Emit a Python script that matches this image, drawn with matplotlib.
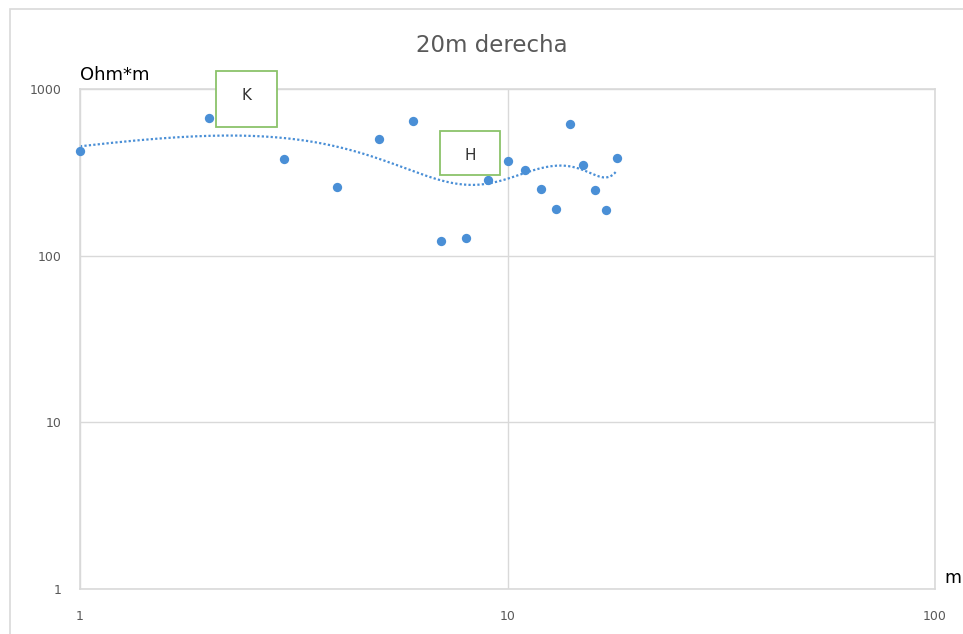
import numpy as np
import matplotlib.pyplot as plt
from matplotlib.patches import Rectangle

# spacing (m) and apparent resistivity (Ohm*m)
spacing = [1, 2, 3, 4, 5, 6, 7, 8, 9, 10, 11, 12, 13, 14, 15, 16, 17, 18]
resistivity = [425, 670, 380, 258, 500, 643, 122, 128, 285, 370,
               326, 251, 190, 617, 350, 248, 188, 386]

title = '20m derecha'
y_label = 'Ohm*m'
x_label = 'm'

point_color = '#4a8fd6'
grid_color = '#d9d9d9'
text_color = '#595959'

fig = plt.figure(figsize=(9.63, 6.34), dpi=100)
fig.patches.append(Rectangle((10 / 963, -0.05), 1.0, 1 - 9 / 634 + 0.05,
                             transform=fig.transFigure, fill=False,
                             edgecolor='#d9d9d9', linewidth=1.2))

ax = fig.add_axes([80 / 963, 1 - 589 / 634, (935 - 80) / 963, (589 - 89) / 634])
ax.set_xscale('log')
ax.set_yscale('log')
ax.set_xlim(1, 100)
ax.set_ylim(1, 1000)

ax.grid(True, which='major', color=grid_color, linewidth=1.0)
ax.set_axisbelow(True)
for s in ax.spines.values():
    s.set_color(grid_color)
    s.set_linewidth(1.2)

ax.set_xticks([1, 10, 100])
ax.set_xticklabels(['1', '10', '100'])
ax.set_yticks([1, 10, 100, 1000])
ax.set_yticklabels(['1', '10', '100', '1000'])
ax.minorticks_off()
ax.tick_params(length=0, labelsize=9, colors=text_color)
ax.tick_params(axis='x', pad=15)
ax.tick_params(axis='y', pad=13)

# polynomial trend line (order 5)
coef = np.polyfit(spacing, resistivity, 5)
xs = np.linspace(min(spacing), max(spacing), 300)
ax.plot(xs, np.polyval(coef, xs), linestyle=(0, (1, 1)), color=point_color,
        linewidth=1.6, zorder=2, clip_on=False)

ax.scatter(spacing, resistivity, s=45, color=point_color, zorder=3,
           clip_on=False, linewidths=0)

fig.text(492 / 963, 1 - 45 / 634, title, fontsize=16.5, color=text_color,
         ha='center', va='center')
fig.text(80 / 963, 1 - 75 / 634, y_label, fontsize=13, color='black',
         ha='left', va='center')
fig.text(944 / 963, 1 - 578 / 634, x_label, fontsize=12.5, color='black',
         ha='left', va='center')

# labelled boxes
for label, (x0, y0, x1, y1) in [('K', (216, 71, 277, 127)),
                                ('H', (440, 131, 500, 175))]:
    fig.patches.append(Rectangle((x0 / 963, 1 - y1 / 634), (x1 - x0) / 963,
                                 (y1 - y0) / 634, transform=fig.transFigure,
                                 facecolor='white', edgecolor='#8bc36a',
                                 linewidth=1.3, zorder=5))
    fig.text((x0 + x1) / 2 / 963, 1 - (y0 + 25) / 634, label, fontsize=11,
             color='#333333', ha='center', va='center', zorder=6)

fig.savefig('out.png', dpi=100)
